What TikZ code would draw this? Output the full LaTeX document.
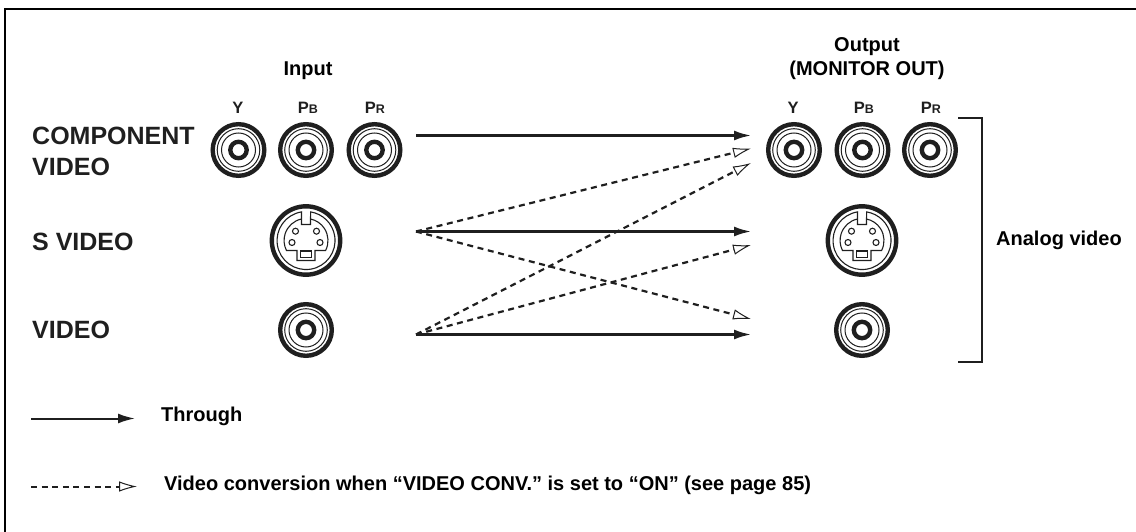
\documentclass[tikz,border=0pt]{standalone}
\usepackage{fontspec}
\setmainfont{Liberation Sans}
\usetikzlibrary{arrows.meta}
\definecolor{ink}{gray}{0.12}
\tikzset{
  lbl/.style={font=\bfseries\fontsize{25}{31}\selectfont, text=ink, align=left, inner sep=0pt},
  small/.style={font=\bfseries\fontsize{16.5}{18}\selectfont, text=ink, anchor=base, inner sep=0pt},
  caption/.style={font=\bfseries\fontsize{20}{23.5}\selectfont, align=center, inner sep=0pt},
  note/.style={font=\bfseries\fontsize{20}{22}\selectfont, anchor=base west, inner sep=0pt},
  thru/.style={line width=2.3pt, -{Latex[length=17pt,width=10pt]}, color=ink},
  conv/.style={line width=2.2pt, dash pattern=on 6pt off 4.6pt, -{Latex[open,length=18pt,width=10.5pt,line width=1pt,fill=white]}, color=ink},
}
% round plug
\newcommand{\rca}[1]{
  \draw[ink,line width=4.4pt] (#1) circle (25.8);
  \draw[ink,line width=1pt] (#1) circle (21.3);
  \draw[ink,line width=1pt] (#1) circle (17);
  \draw[ink,line width=4.4pt] (#1) circle (8.2);
}
% S plug
\newcommand{\spin}[1]{
  \begin{scope}[shift={(#1)},ink]
    \draw[line width=4.4pt] (0,0) circle (34.2);
    \draw[line width=1.1pt] (-4.5,-28.6) arc (261:-81:29) -- (4.5,-16) -- (-4.5,-16) -- cycle;
    \draw[line width=1.1pt] (-4.5,-21.5) arc (258:153:22) -- (-9,10) -- (-9,20) -- (9,20) -- (9,10) -- (19.6,10) arc (27:-78:22);
    \draw[line width=1.1pt] (-5.7,10.5) rectangle (5.7,17);
    \foreach \px/\py in {-10.5/-9.3,10.5/-9.3,-14/2,14/2}
      \draw[line width=1.1pt] (\px,\py) circle (3);
  \end{scope}
}
\begin{document}
\begin{tikzpicture}[x=1pt,y=-1pt]
  \useasboundingbox (0,0) rectangle (1136,532);
  \draw[line width=2pt] (5,532) -- (5,9) -- (1136,9);

  \node[caption, anchor=base] (input) at (308,76) {Input};
  \node[caption] (output) at (867,58.5) {Output\\(MONITOR OUT)};

  \node[small] (iy) at (238,114) {Y};
  \node[small] (ib) at (308,114) {P\fontsize{12.5}{14}\selectfont B};
  \node[small] (ir) at (375,114) {P\fontsize{12.5}{14}\selectfont R};
  \node[small] (oy) at (793,114) {Y};
  \node[small] (ob) at (864,114) {P\fontsize{12.5}{14}\selectfont B};
  \node[small] (or) at (931,114) {P\fontsize{12.5}{14}\selectfont R};

  \node[lbl, anchor=west] (comp) at (32,151) {COMPONENT\\VIDEO};
  \node[lbl, anchor=base west] (svid) at (32,250) {S VIDEO};
  \node[lbl, anchor=base west] (vid) at (32,338.5) {VIDEO};

  \rca{238.5,150}
  \rca{306,150}
  \rca{374.5,150}
  \rca{794,150}
  \rca{862.5,150}
  \rca{930,150}
  \spin{306,240.5}
  \spin{862,240.5}
  \rca{306,330}
  \rca{862,330}

  \coordinate (a1) at (416,135.5);
  \coordinate (a2) at (751,135.5);
  \coordinate (b1) at (416,231.5);
  \coordinate (b2) at (751,231.5);
  \coordinate (c1) at (416,334.5);
  \coordinate (c2) at (751,334.5);
  \coordinate (d1) at (751,148.5);
  \coordinate (d2) at (751,163);
  \coordinate (d3) at (751,245);
  \coordinate (d4) at (751,319);

  \draw[thru] (a1) -- (a2);
  \draw[thru] (b1) -- (b2);
  \draw[thru] (c1) -- (c2);
  \draw[conv] (b1) -- (d1);
  \draw[conv] (b1) -- (d4);
  \draw[conv] (c1) -- (d2);
  \draw[conv] (c1) -- (d3);

  \draw[ink,line width=2pt] (958,118) -- (982,118) -- (982,362) -- (958,362);
  \node[caption, anchor=base west] (analog) at (996,245) {Analog video};

  \coordinate (t1) at (31,418.5);
  \coordinate (t2) at (135,418.5);
  \coordinate (v1) at (31,486.5);
  \coordinate (v2) at (137,486.5);
  \draw[thru, line width=2pt] (t1) -- (t2);
  \draw[conv, line width=2pt, dash pattern=on 6pt off 4.6pt] (v1) -- (v2);
  \node[note] (through) at (161,421.5) {Through};
  \node[note] (vconv) at (164,490) {Video conversion when “VIDEO CONV.” is set to “ON” (see page 85)};
\end{tikzpicture}
\end{document}
